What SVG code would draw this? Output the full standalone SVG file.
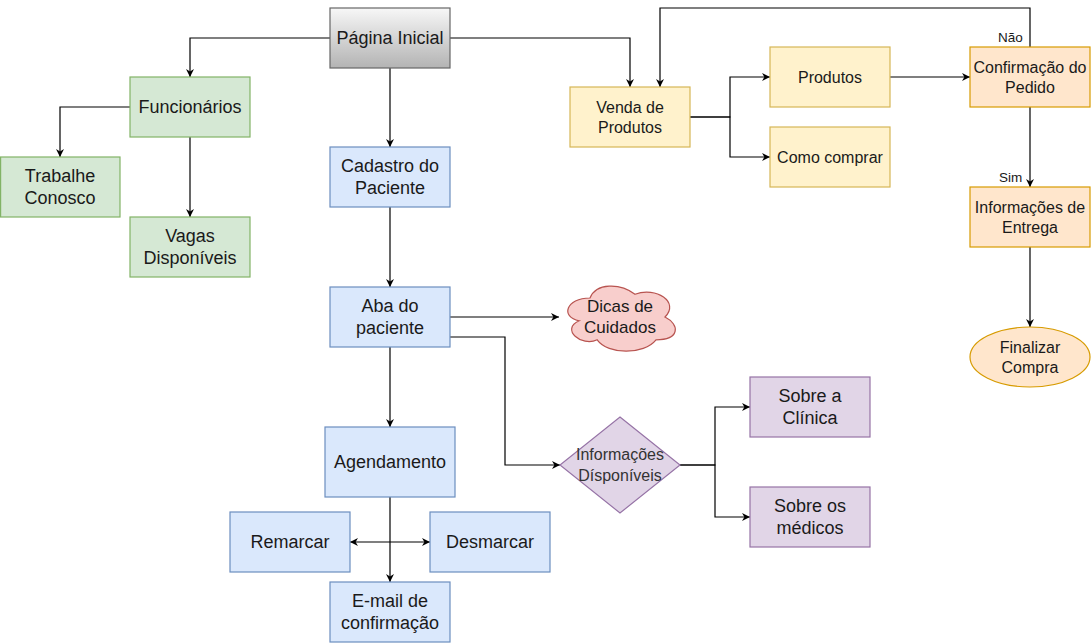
<svg xmlns="http://www.w3.org/2000/svg" width="1091" height="643" viewBox="0 0 1091 643">
  <defs>
    <linearGradient id="gray" x1="0" y1="0" x2="0" y2="1">
      <stop offset="0" stop-color="#f7f7f7"/>
      <stop offset="1" stop-color="#b3b3b3"/>
    </linearGradient>
    <marker id="arr" viewBox="0 0 10 10" refX="10" refY="5" markerWidth="9" markerHeight="8" markerUnits="userSpaceOnUse" orient="auto">
      <path d="M0,0 L10,5 L0,10 L3,5 Z" fill="#000"/>
    </marker>
    <style>
      .e { fill: none; stroke: #000; stroke-width: 1.2; marker-end: url(#arr); }
      .g { fill: #d5e8d4; stroke: #82b366; stroke-width: 1.2; }
      .b { fill: #dae8fc; stroke: #6c8ebf; stroke-width: 1.2; }
      .p { fill: #e1d5e7; stroke: #9673a6; stroke-width: 1.2; }
      .y { fill: #fff2cc; stroke: #d6b656; stroke-width: 1.2; }
      .o { fill: #ffe6cc; stroke: #d79b00; stroke-width: 1.2; }
      text { font-family: "Liberation Sans", Arial, sans-serif; fill: #1a1a1a; text-anchor: middle; }
      .l { font-size: 18px; }
      .s { font-size: 16px; }
      .lab { font-size: 13.5px; }
    </style>
  </defs>

  <g id="connectors">
    <path class="e" d="M330,38 H190 V77"/>
    <path class="e" d="M390,68 V147"/>
    <path class="e" d="M450,38 H630 V87"/>
    <path class="e" d="M130,107 H60 V157"/>
    <path class="e" d="M190,137 V217"/>
    <path class="e" d="M390,207 V287"/>
    <path class="e" d="M450,317 H559"/>
    <path class="e" d="M450,337 H505 V465 H560"/>
    <path class="e" d="M390,347 V427"/>
    <path class="e" d="M390,497 V582"/>
    <path class="e" d="M390,542 H350"/>
    <path class="e" d="M390,542 H430"/>
    <path class="e" d="M680,465 H715 V407 H750"/>
    <path class="e" d="M680,465 H715 V517 H750"/>
    <path class="e" d="M690,117 H730 V77 H770"/>
    <path class="e" d="M690,117 H730 V157 H770"/>
    <path class="e" d="M890,77 H970"/>
    <path class="e" d="M1030,47 V8 H660 V87"/>
    <path class="e" d="M1030,107 V187"/>
    <path class="e" d="M1030,247 V327"/>
    <text class="lab" x="1010.5" y="41.7">Não</text>
    <text class="lab" x="1010.5" y="181.7">Sim</text>
  </g>

  <g id="pagina-inicial">
    <rect x="330" y="8" width="120" height="60" fill="url(#gray)" stroke="#666666" stroke-width="1.2"/>
    <text class="l" x="390" y="44.4">Página Inicial</text>
  </g>
  <g id="funcionarios">
    <rect class="g" x="130" y="77" width="120" height="60"/>
    <text class="l" x="190" y="113.4">Funcionários</text>
  </g>
  <g id="trabalhe-conosco">
    <rect class="g" x="0.6" y="157" width="119.4" height="60"/>
    <text class="l" x="60" y="182.4">Trabalhe</text>
    <text class="l" x="60" y="204.4">Conosco</text>
  </g>
  <g id="vagas">
    <rect class="g" x="130" y="217" width="120" height="60"/>
    <text class="l" x="190" y="242.4">Vagas</text>
    <text class="l" x="190" y="264.4">Disponíveis</text>
  </g>
  <g id="cadastro">
    <rect class="b" x="330" y="147" width="120" height="60"/>
    <text class="l" x="390" y="172.4">Cadastro do</text>
    <text class="l" x="390" y="194.4">Paciente</text>
  </g>
  <g id="aba-paciente">
    <rect class="b" x="330" y="287" width="120" height="60"/>
    <text class="l" x="390" y="312.4">Aba do</text>
    <text class="l" x="390" y="334.4">paciente</text>
  </g>
  <g id="agendamento">
    <rect class="b" x="325" y="427" width="130" height="70"/>
    <text class="l" x="390" y="468.4">Agendamento</text>
  </g>
  <g id="remarcar">
    <rect class="b" x="230" y="512" width="120" height="60"/>
    <text class="l" x="290" y="548.4">Remarcar</text>
  </g>
  <g id="desmarcar">
    <rect class="b" x="430" y="512" width="120" height="60"/>
    <text class="l" x="490" y="548.4">Desmarcar</text>
  </g>
  <g id="email">
    <rect class="b" x="330" y="582" width="120" height="60"/>
    <text class="l" x="390" y="607.4">E-mail de</text>
    <text class="l" x="390" y="629.4">confirmação</text>
  </g>
  <g id="dicas">
    <path d="M590,298 C566,298 560,317 579.2,320.8 C560,329 581.6,347.4 597.2,339.8 C608,355 644,355 656,339.8 C680,339.8 680,324.6 665,317 C680,301.8 656,286.6 635,294.2 C620,282.8 596,282.8 590,298 Z" fill="#f8cecc" stroke="#b85450" stroke-width="1.2"/>
    <text x="620" y="311.7" style="font-size:17px">Dicas de</text>
    <text x="620" y="333.3" style="font-size:17px">Cuidados</text>
  </g>
  <g id="informacoes-disponiveis">
    <polygon class="p" points="620,417 680,465 620,513 560,465"/>
    <text class="s" x="620" y="460.3" style="fill:#333">Informações</text>
    <text class="s" x="620" y="481.3" style="fill:#333">Dísponíveis</text>
  </g>
  <g id="sobre-clinica">
    <rect class="p" x="750" y="377" width="120" height="60"/>
    <text class="l" x="810" y="402.4">Sobre a</text>
    <text class="l" x="810" y="424.4">Clínica</text>
  </g>
  <g id="sobre-medicos">
    <rect class="p" x="750" y="487" width="120" height="60"/>
    <text class="l" x="810" y="512.4">Sobre os</text>
    <text class="l" x="810" y="534.4">médicos</text>
  </g>
  <g id="venda">
    <rect class="y" x="570" y="87" width="120" height="60"/>
    <text class="s" x="630" y="112.7">Venda de</text>
    <text class="s" x="630" y="132.7">Produtos</text>
  </g>
  <g id="produtos">
    <rect class="y" x="770" y="47" width="120" height="60"/>
    <text class="s" x="830" y="82.7">Produtos</text>
  </g>
  <g id="como-comprar">
    <rect class="y" x="770" y="127" width="120" height="60"/>
    <text class="s" x="830" y="162.7">Como comprar</text>
  </g>
  <g id="confirmacao">
    <rect class="o" x="970" y="47" width="120" height="60"/>
    <text class="s" x="1030" y="72.7">Confirmação do</text>
    <text class="s" x="1030" y="92.7">Pedido</text>
  </g>
  <g id="entrega">
    <rect class="o" x="970" y="187" width="120" height="60"/>
    <text class="s" x="1030" y="212.7">Informações de</text>
    <text class="s" x="1030" y="232.7">Entrega</text>
  </g>
  <g id="finalizar">
    <ellipse class="o" cx="1030" cy="357" rx="60" ry="30"/>
    <text class="s" x="1030" y="352.7">Finalizar</text>
    <text class="s" x="1030" y="372.7">Compra</text>
  </g>
</svg>
